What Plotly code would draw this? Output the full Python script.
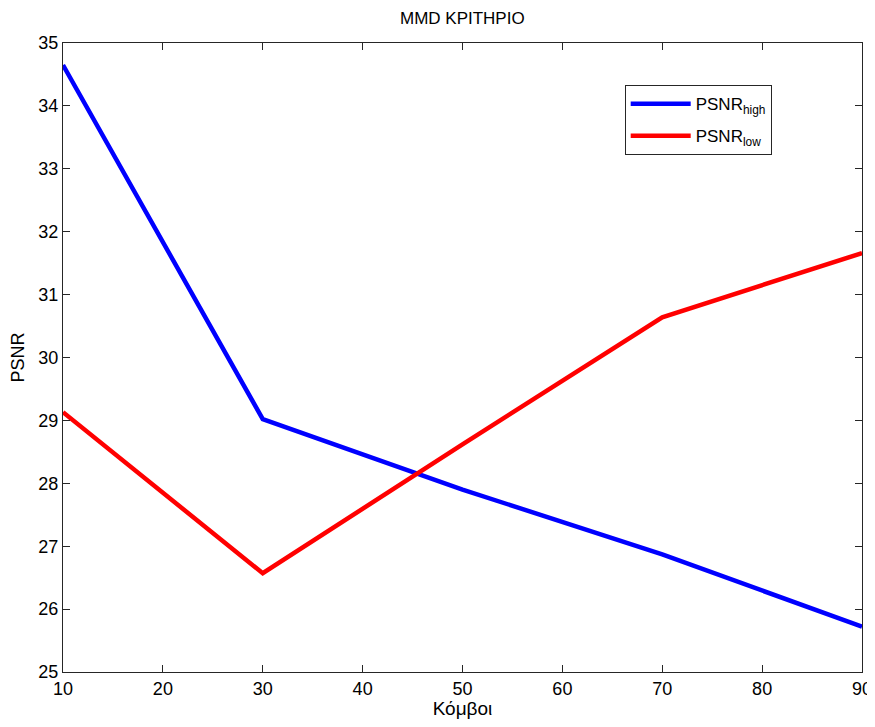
import plotly.graph_objects as go

nodes = [10, 30, 50, 70, 90]
psnr_high = [34.65, 29.02, 27.90, 26.87, 25.72]
psnr_low = [29.13, 26.57, 28.62, 30.64, 31.66]
x_ticks = [10, 20, 30, 40, 50, 60, 70, 80, 90]
y_ticks = [25, 26, 27, 28, 29, 30, 31, 32, 33, 34, 35]

FONT = "Liberation Sans, Arial"

fig = go.Figure()
fig.add_trace(go.Scatter(x=nodes, y=psnr_high, mode="lines", name="PSNR<sub>high</sub>",
                         legendgroup="a", line=dict(color="#0000ff", width=4.5)))
fig.add_trace(go.Scatter(x=nodes, y=psnr_low, mode="lines", name="PSNR<sub>low</sub>",
                         legendgroup="b", line=dict(color="#ff0000", width=4.5)))

axis_common = dict(showgrid=False, zeroline=False, showline=True, linecolor="#262626",
                   linewidth=1, mirror="ticks", ticks="inside", ticklen=7, tickcolor="#262626",
                   automargin=False, ticklabeloverflow="allow",
                   tickfont=dict(family=FONT, size=18, color="#000"))
fig.update_xaxes(range=[10, 90], tickvals=x_ticks,
                 title=dict(text="Κόμβοι", font=dict(family=FONT, size=19, color="#000"), standoff=11),
                 **axis_common)
fig.update_yaxes(range=[25, 35], tickvals=y_ticks,
                 title=dict(text="PSNR", font=dict(family=FONT, size=18, color="#000"), standoff=9),
                 **axis_common)

fig.update_layout(
    width=867, height=711,
    margin=dict(l=55, r=13, t=35, b=47, autoexpand=False),
    plot_bgcolor="white", paper_bgcolor="white",
    title=dict(text="MMD ΚΡΙΤΗΡΙΟ", x=0.524, xanchor="center", y=0.986, yanchor="middle",
               font=dict(family=FONT, size=17, color="#000")),
    font=dict(family=FONT, color="#000"),
    legend=dict(x=0.703, y=0.933, xanchor="left", yanchor="top",
                bgcolor="white", bordercolor="#262626", borderwidth=1,
                font=dict(family=FONT, size=17, color="#000"),
                itemwidth=60, tracegroupgap=7),
    showlegend=True,
)

fig.write_html("out.html")
